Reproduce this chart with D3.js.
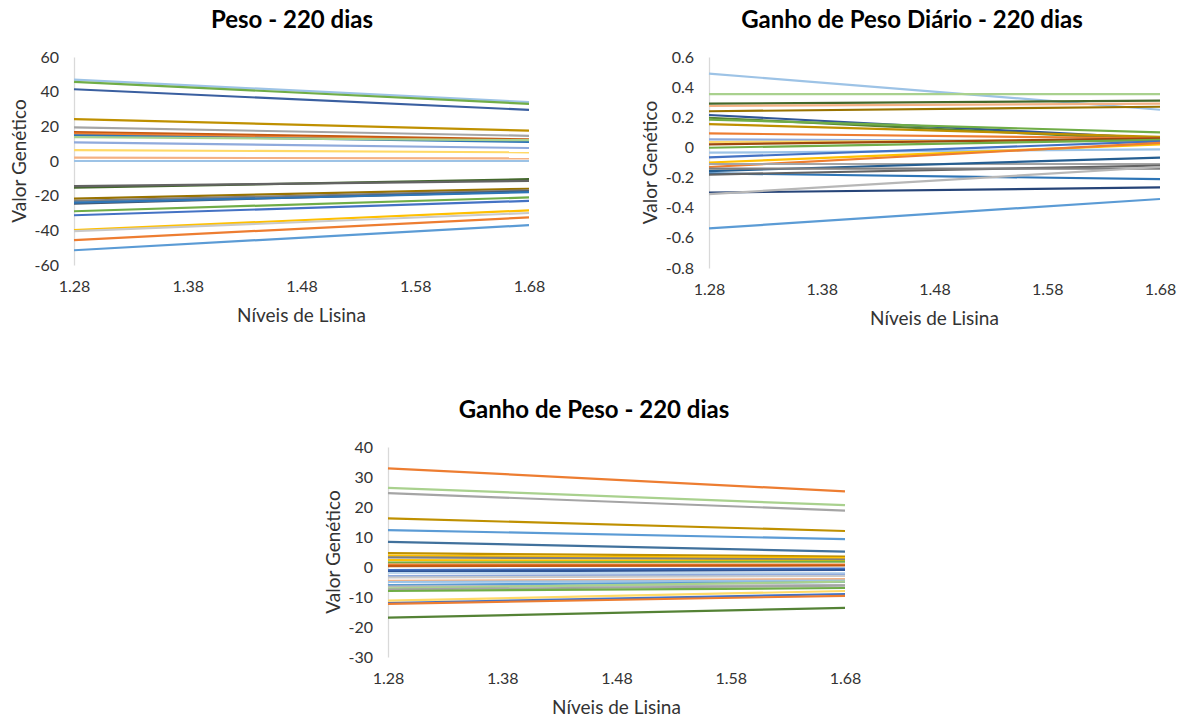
<!DOCTYPE html>
<meta charset="utf-8">
<style>
    body { margin: 0; background: #fff; }
    svg text { font-family: Lato, "Open Sans", sans-serif; fill: #333; }
    .title { font-weight: bold; fill: #000; font-size: 24px; }
    .tick text { font-size: 16px; }
    .axis-title { font-size: 19px; }
</style>
<svg width="1184" height="720"></svg>
<script src="https://cdn.jsdelivr.net/npm/d3@7"></script>
<script>

    // níveis de lisina (eixo x) e extremos das normas de reação
    var levels = [1.28, 1.38, 1.48, 1.58, 1.68];
    var ends = [1.28, 1.68];

    // Peso - 220 dias : [valor em 1.28, valor em 1.68]
    var pesoValues = [
        [47, 34], [45.7, 33], [41.4, 29.5], [24.2, 17.5], [19.4, 14.5], [16.7, 12.5],
        [15.8, 11.5], [14.8, 11], [13.8, 12], [10.8, 7.5], [6.3, 5], [1.9, 1.5], [0, 0],
        [-15.4, -10.5], [-14.5, -11.5], [-21.7, -16], [-23, -17], [-24.6, -17.5], [-24, -18],
        [-29, -21], [-31.3, -23], [-39.8, -28.5], [-40.5, -30], [-45.6, -32.5], [-51.5, -37]
    ];
    var pesoColors = ["#9DC3E6", "#70AD47", "#3A5FA0", "#BF9000", "#A5A5A5", "#C55A11",
        "#ED7D31", "#2E75B6", "#A9D18E", "#8FAADC", "#FFD966", "#F4B183", "#9DC3E6",
        "#43682B", "#636363", "#997300", "#7F7F7F", "#44546A", "#2E75B6",
        "#70AD47", "#4472C4", "#FFC000", "#C9C9C9", "#ED7D31", "#5B9BD5"];

    // Ganho de Peso Diário - 220 dias
    var gpdValues = [
        [0.49, 0.25], [0.354, 0.354], [0.29, 0.31], [0.275, 0.29], [0.24, 0.27],
        [0.215, 0.06], [0.197, 0.05], [0.185, 0.1], [0.155, 0.07], [0.093, 0.06],
        [0.054, 0.04], [0.036, 0.05], [0.02, 0.06], [-0.002, 0.05], [-0.035, -0.013],
        [-0.066, 0.04], [-0.1, 0.02], [-0.13, 0.03], [-0.11, -0.11], [-0.157, -0.068],
        [-0.172, -0.21], [-0.18, -0.12], [-0.14, -0.14], [-0.3, -0.265], [-0.31, -0.13],
        [-0.537, -0.342]
    ];
    var gpdColors = ["#9DC3E6", "#A9D18E", "#43682B", "#F4B183", "#997300",
        "#2F5597", "#548235", "#70AD47", "#BF9000", "#ED7D31",
        "#8FAADC", "#FFD966", "#9E480E", "#70AD47", "#9DC3E6",
        "#4472C4", "#FFC000", "#ED7D31", "#A5A5A5", "#255E91",
        "#2E75B6", "#636363", "#7F7F7F", "#264478", "#B7B7B7",
        "#5B9BD5"];

    // Ganho de Peso - 220 dias
    var gpValues = [
        [32.9, 25.2], [26.4, 20.6], [24.6, 18.8], [16.2, 12], [12.3, 9.3], [8.4, 5.1],
        [4.6, 3.5], [3.8, 3], [3.2, 2.5], [2.3, 2], [1.5, 1.8], [0.8, 0.8], [0.3, 0.5],
        [-1, -0.5], [-1.5, -1], [-2, -2], [-3, -2.5], [-3.5, -3], [-4.6, -4], [-5, -4.5],
        [-6, -5], [-6.5, -6], [-7.1, -4.9], [-7.5, -6.2], [-8, -7], [-11.2, -8],
        [-12, -9], [-12.3, -9.6], [-16.9, -13.6]
    ];
    var gpColors = ["#ED7D31", "#A9D18E", "#A5A5A5", "#BF9000", "#5B9BD5", "#41719C",
        "#BF9000", "#FFC000", "#7F7F7F", "#FFC000", "#70AD47", "#ED7D31", "#C55A11",
        "#4472C4", "#2F5597", "#BDD7EE", "#8FAADC", "#C9C9C9", "#F4B183", "#9DC3E6",
        "#5B9BD5", "#B7B7B7", "#A9D18E", "#A5A5A5", "#70AD47", "#FFD966",
        "#4472C4", "#ED7D31", "#548235"];

    var svg = d3.select("svg");

    var drawChart = function (cfg) {
        var g = svg.append("g");
        var x = d3.scaleLinear().domain([1.28, 1.68]).range([cfg.left, cfg.right]);
        var y = d3.scaleLinear().domain(cfg.yDomain).range([cfg.bottom, cfg.top]);

        g.append("text").attr("class", "title")
            .attr("x", cfg.titleX).attr("y", cfg.titleY)
            .attr("text-anchor", "middle")
            .text(cfg.title);

        // eixo y: só linha vertical e rótulos
        var yAxis = g.append("g")
            .attr("transform", "translate(" + cfg.left + ",0)")
            .call(d3.axisLeft(y).tickValues(cfg.yTicks).tickSize(0).tickPadding(15)
                .tickFormat(function (d) { return +d.toFixed(1); }));
        yAxis.select(".domain").attr("stroke", "#D9D9D9").attr("stroke-width", 1.3);

        var xAxis = g.append("g")
            .attr("transform", "translate(0," + cfg.bottom + ")")
            .call(d3.axisBottom(x).tickValues(levels).tickSize(0).tickPadding(16)
                .tickFormat(d3.format(".2f")));
        xAxis.select(".domain").remove();

        var line = d3.line()
            .x(function (d) { return x(d[0]); })
            .y(function (d) { return y(d[1]); });

        g.append("g").selectAll("path")
            .data(cfg.values)
            .enter()
            .append("path")
            .attr("fill", "none")
            .attr("stroke-width", 2.2)
            .attr("stroke", function (d, i) { return cfg.colors[i]; })
            .attr("d", function (d) {
                return line(ends.map(function (e, k) { return [e, d[k]]; }));
            });

        g.append("text").attr("class", "axis-title")
            .attr("x", (cfg.left + cfg.right) / 2).attr("y", cfg.bottom + 57)
            .attr("text-anchor", "middle")
            .text("Níveis de Lisina");

        g.append("text").attr("class", "axis-title")
            .attr("transform", "translate(" + cfg.yTitleX + "," + (cfg.top + cfg.bottom) / 2 + ") rotate(-90)")
            .attr("text-anchor", "middle")
            .text("Valor Genético");
    };

    drawChart({
        title: "Peso - 220 dias", titleX: 292, titleY: 28,
        left: 74, right: 529, top: 57, bottom: 265, yTitleX: 26,
        yDomain: [-60, 60], yTicks: d3.range(-60, 61, 20),
        values: pesoValues, colors: pesoColors
    });

    drawChart({
        title: "Ganho de Peso Diário - 220 dias", titleX: 912, titleY: 28,
        left: 709, right: 1160, top: 57, bottom: 268, yTitleX: 657,
        yDomain: [-0.8, 0.6], yTicks: [-0.8, -0.6, -0.4, -0.2, 0, 0.2, 0.4, 0.6],
        values: gpdValues, colors: gpdColors
    });

    drawChart({
        title: "Ganho de Peso - 220 dias", titleX: 594, titleY: 418,
        left: 388, right: 845, top: 447, bottom: 657, yTitleX: 340,
        yDomain: [-30, 40], yTicks: d3.range(-30, 41, 10),
        values: gpValues, colors: gpColors
    });

</script>
